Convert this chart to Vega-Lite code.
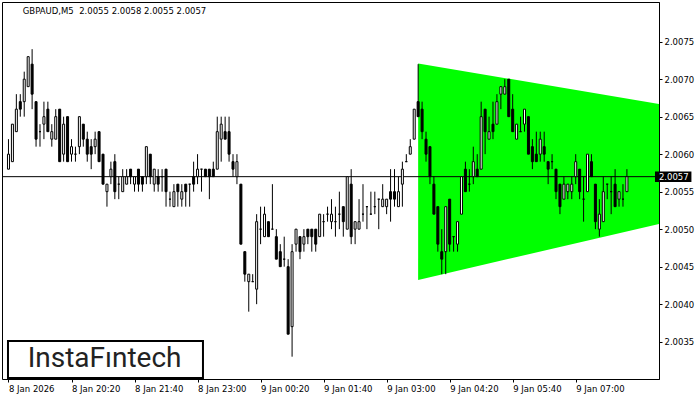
{
  "$schema": "https://vega.github.io/schema/vega-lite/v6.json",
  "width": 657,
  "height": 377,
  "autosize": {"type": "none"},
  "padding": {"left": 2, "top": 2, "right": 41, "bottom": 21},
  "background": "white",
  "config": {"view": {"stroke": "black", "strokeWidth": 1}, "font": "DejaVu Sans"},
  "datasets": {
    "one": [{}],
    "tri": [
      {"t": "2026-01-09T03:40", "top": 2.00721, "bot": 2.004323},
      {"t": "2026-01-09T09:00", "top": 2.006642, "bot": 2.005105}
    ],
    "candles": [
      {"t":"2026-01-08T19:00","o":2.0058,"h":2.0062,"l":2.0058,"c":2.0060},
      {"t":"2026-01-08T19:05","o":2.0059,"h":2.0064,"l":2.0059,"c":2.0064},
      {"t":"2026-01-08T19:10","o":2.0063,"h":2.0068,"l":2.0063,"c":2.0066},
      {"t":"2026-01-08T19:15","o":2.0067,"h":2.0068,"l":2.0065,"c":2.0066},
      {"t":"2026-01-08T19:20","o":2.0067,"h":2.0071,"l":2.0065,"c":2.0070},
      {"t":"2026-01-08T19:25","o":2.0069,"h":2.0073,"l":2.0069,"c":2.0073},
      {"t":"2026-01-08T19:30","o":2.0072,"h":2.0074,"l":2.0066,"c":2.0068},
      {"t":"2026-01-08T19:35","o":2.0067,"h":2.0067,"l":2.0061,"c":2.0062},
      {"t":"2026-01-08T19:40","o":2.0063,"h":2.0064,"l":2.0061,"c":2.0063},
      {"t":"2026-01-08T19:45","o":2.0064,"h":2.0067,"l":2.0062,"c":2.0065},
      {"t":"2026-01-08T19:50","o":2.0066,"h":2.0067,"l":2.0063,"c":2.0063},
      {"t":"2026-01-08T19:55","o":2.0062,"h":2.0064,"l":2.0061,"c":2.0063},
      {"t":"2026-01-08T20:00","o":2.0062,"h":2.0066,"l":2.0062,"c":2.0065},
      {"t":"2026-01-08T20:05","o":2.0066,"h":2.0066,"l":2.0059,"c":2.0059},
      {"t":"2026-01-08T20:10","o":2.0060,"h":2.0065,"l":2.0059,"c":2.0064},
      {"t":"2026-01-08T20:15","o":2.0065,"h":2.0065,"l":2.0059,"c":2.0059},
      {"t":"2026-01-08T20:20","o":2.0060,"h":2.0062,"l":2.0059,"c":2.0061},
      {"t":"2026-01-08T20:25","o":2.0060,"h":2.0061,"l":2.0059,"c":2.0060},
      {"t":"2026-01-08T20:30","o":2.0061,"h":2.0065,"l":2.0060,"c":2.0065},
      {"t":"2026-01-08T20:35","o":2.0064,"h":2.0064,"l":2.0061,"c":2.0062},
      {"t":"2026-01-08T20:40","o":2.0062,"h":2.0063,"l":2.0059,"c":2.0060},
      {"t":"2026-01-08T20:45","o":2.0061,"h":2.0062,"l":2.0058,"c":2.0060},
      {"t":"2026-01-08T20:50","o":2.0061,"h":2.0063,"l":2.0060,"c":2.0062},
      {"t":"2026-01-08T20:55","o":2.0063,"h":2.0063,"l":2.0059,"c":2.0059},
      {"t":"2026-01-08T21:00","o":2.0060,"h":2.0060,"l":2.0056,"c":2.0056},
      {"t":"2026-01-08T21:05","o":2.0055,"h":2.0056,"l":2.0053,"c":2.0056},
      {"t":"2026-01-08T21:10","o":2.0057,"h":2.0059,"l":2.0056,"c":2.0058},
      {"t":"2026-01-08T21:15","o":2.0059,"h":2.0060,"l":2.0054,"c":2.0055},
      {"t":"2026-01-08T21:20","o":2.0056,"h":2.0057,"l":2.0054,"c":2.0056},
      {"t":"2026-01-08T21:25","o":2.0055,"h":2.0058,"l":2.0055,"c":2.0057},
      {"t":"2026-01-08T21:30","o":2.0056,"h":2.0058,"l":2.0056,"c":2.0057},
      {"t":"2026-01-08T21:35","o":2.0058,"h":2.0058,"l":2.0056,"c":2.0057},
      {"t":"2026-01-08T21:40","o":2.0056,"h":2.0057,"l":2.0055,"c":2.0057},
      {"t":"2026-01-08T21:45","o":2.0058,"h":2.0058,"l":2.0055,"c":2.0056},
      {"t":"2026-01-08T21:50","o":2.0057,"h":2.0057,"l":2.0055,"c":2.0056},
      {"t":"2026-01-08T21:55","o":2.0057,"h":2.0061,"l":2.0056,"c":2.0061},
      {"t":"2026-01-08T22:00","o":2.0060,"h":2.0060,"l":2.0056,"c":2.0057},
      {"t":"2026-01-08T22:05","o":2.0056,"h":2.0058,"l":2.0055,"c":2.0058},
      {"t":"2026-01-08T22:10","o":2.0057,"h":2.0058,"l":2.0055,"c":2.0056},
      {"t":"2026-01-08T22:15","o":2.0057,"h":2.0058,"l":2.0055,"c":2.0057},
      {"t":"2026-01-08T22:20","o":2.0058,"h":2.0058,"l":2.0053,"c":2.0055},
      {"t":"2026-01-08T22:25","o":2.0054,"h":2.0055,"l":2.0053,"c":2.0054},
      {"t":"2026-01-08T22:30","o":2.0053,"h":2.0056,"l":2.0053,"c":2.0055},
      {"t":"2026-01-08T22:35","o":2.0056,"h":2.0056,"l":2.0053,"c":2.0055},
      {"t":"2026-01-08T22:40","o":2.0054,"h":2.0056,"l":2.0053,"c":2.0055},
      {"t":"2026-01-08T22:45","o":2.0056,"h":2.0056,"l":2.0053,"c":2.0055},
      {"t":"2026-01-08T22:50","o":2.0056,"h":2.0056,"l":2.0053,"c":2.0056},
      {"t":"2026-01-08T22:55","o":2.0057,"h":2.0059,"l":2.0055,"c":2.0056},
      {"t":"2026-01-08T23:00","o":2.0057,"h":2.0060,"l":2.0056,"c":2.0058},
      {"t":"2026-01-08T23:05","o":2.0058,"h":2.0058,"l":2.0055,"c":2.0058},
      {"t":"2026-01-08T23:10","o":2.0058,"h":2.0058,"l":2.0057,"c":2.0057},
      {"t":"2026-01-08T23:15","o":2.0058,"h":2.0058,"l":2.0054,"c":2.0057},
      {"t":"2026-01-08T23:20","o":2.0058,"h":2.0059,"l":2.0057,"c":2.0057},
      {"t":"2026-01-08T23:25","o":2.0058,"h":2.0065,"l":2.0058,"c":2.0063},
      {"t":"2026-01-08T23:30","o":2.0062,"h":2.0065,"l":2.0059,"c":2.0064},
      {"t":"2026-01-08T23:35","o":2.0063,"h":2.0065,"l":2.0062,"c":2.0062},
      {"t":"2026-01-08T23:40","o":2.0063,"h":2.0065,"l":2.0059,"c":2.0060},
      {"t":"2026-01-08T23:45","o":2.0059,"h":2.0060,"l":2.0057,"c":2.0058},
      {"t":"2026-01-08T23:50","o":2.0057,"h":2.0060,"l":2.0056,"c":2.0059},
      {"t":"2026-01-08T23:55","o":2.0056,"h":2.0056,"l":2.0048,"c":2.0048},
      {"t":"2026-01-09T00:00","o":2.0047,"h":2.0047,"l":2.0043,"c":2.0044},
      {"t":"2026-01-09T00:05","o":2.0043,"h":2.0044,"l":2.0039,"c":2.0044},
      {"t":"2026-01-09T00:10","o":2.0043,"h":2.0044,"l":2.0043,"c":2.0043},
      {"t":"2026-01-09T00:15","o":2.0042,"h":2.0052,"l":2.0040,"c":2.0051},
      {"t":"2026-01-09T00:20","o":2.0050,"h":2.0053,"l":2.0048,"c":2.0050},
      {"t":"2026-01-09T00:25","o":2.0049,"h":2.0053,"l":2.0049,"c":2.0052},
      {"t":"2026-01-09T00:30","o":2.0051,"h":2.0051,"l":2.0049,"c":2.0049},
      {"t":"2026-01-09T00:35","o":2.0050,"h":2.0056,"l":2.0050,"c":2.0050},
      {"t":"2026-01-09T00:40","o":2.0049,"h":2.0050,"l":2.0046,"c":2.0046},
      {"t":"2026-01-09T00:45","o":2.0047,"h":2.0048,"l":2.0045,"c":2.0045},
      {"t":"2026-01-09T00:50","o":2.0046,"h":2.0049,"l":2.0045,"c":2.0046},
      {"t":"2026-01-09T00:55","o":2.0045,"h":2.0046,"l":2.0036,"c":2.0036},
      {"t":"2026-01-09T01:00","o":2.0037,"h":2.0048,"l":2.0033,"c":2.0047},
      {"t":"2026-01-09T01:05","o":2.0048,"h":2.0050,"l":2.0047,"c":2.0050},
      {"t":"2026-01-09T01:10","o":2.0049,"h":2.0049,"l":2.0046,"c":2.0047},
      {"t":"2026-01-09T01:15","o":2.0048,"h":2.0050,"l":2.0047,"c":2.0049},
      {"t":"2026-01-09T01:20","o":2.0050,"h":2.0050,"l":2.0048,"c":2.0049},
      {"t":"2026-01-09T01:25","o":2.0050,"h":2.0050,"l":2.0047,"c":2.0049},
      {"t":"2026-01-09T01:30","o":2.0050,"h":2.0050,"l":2.0047,"c":2.0048},
      {"t":"2026-01-09T01:35","o":2.0049,"h":2.0052,"l":2.0049,"c":2.0052},
      {"t":"2026-01-09T01:40","o":2.0051,"h":2.0052,"l":2.0049,"c":2.0051},
      {"t":"2026-01-09T01:45","o":2.0052,"h":2.0053,"l":2.0051,"c":2.0052},
      {"t":"2026-01-09T01:50","o":2.0051,"h":2.0054,"l":2.0050,"c":2.0052},
      {"t":"2026-01-09T01:55","o":2.0051,"h":2.0053,"l":2.0049,"c":2.0051},
      {"t":"2026-01-09T02:00","o":2.0052,"h":2.0055,"l":2.0050,"c":2.0052},
      {"t":"2026-01-09T02:05","o":2.0053,"h":2.0053,"l":2.0049,"c":2.0051},
      {"t":"2026-01-09T02:10","o":2.0050,"h":2.0057,"l":2.0050,"c":2.0057},
      {"t":"2026-01-09T02:15","o":2.0056,"h":2.0058,"l":2.0048,"c":2.0049},
      {"t":"2026-01-09T02:20","o":2.0050,"h":2.0051,"l":2.0048,"c":2.0051},
      {"t":"2026-01-09T02:25","o":2.0050,"h":2.0054,"l":2.0050,"c":2.0051},
      {"t":"2026-01-09T02:30","o":2.0052,"h":2.0056,"l":2.0051,"c":2.0052},
      {"t":"2026-01-09T02:35","o":2.0053,"h":2.0053,"l":2.0050,"c":2.0053},
      {"t":"2026-01-09T02:40","o":2.0052,"h":2.0055,"l":2.0052,"c":2.0052},
      {"t":"2026-01-09T02:45","o":2.0053,"h":2.0055,"l":2.0052,"c":2.0053},
      {"t":"2026-01-09T02:50","o":2.0054,"h":2.0054,"l":2.0050,"c":2.0054},
      {"t":"2026-01-09T02:55","o":2.0053,"h":2.0056,"l":2.0053,"c":2.0054},
      {"t":"2026-01-09T03:00","o":2.0053,"h":2.0054,"l":2.0052,"c":2.0054},
      {"t":"2026-01-09T03:05","o":2.0055,"h":2.0058,"l":2.0051,"c":2.0054},
      {"t":"2026-01-09T03:10","o":2.0055,"h":2.0058,"l":2.0053,"c":2.0054},
      {"t":"2026-01-09T03:15","o":2.0053,"h":2.0057,"l":2.0053,"c":2.0055},
      {"t":"2026-01-09T03:20","o":2.0056,"h":2.0059,"l":2.0053,"c":2.0058},
      {"t":"2026-01-09T03:25","o":2.0059,"h":2.0060,"l":2.0059,"c":2.0059},
      {"t":"2026-01-09T03:30","o":2.0060,"h":2.0062,"l":2.0060,"c":2.0061},
      {"t":"2026-01-09T03:35","o":2.0062,"h":2.0066,"l":2.0062,"c":2.0066},
      {"t":"2026-01-09T03:40","o":2.0067,"h":2.0072,"l":2.0065,"c":2.0065},
      {"t":"2026-01-09T03:45","o":2.0066,"h":2.0067,"l":2.0062,"c":2.0063},
      {"t":"2026-01-09T03:50","o":2.0062,"h":2.0063,"l":2.0059,"c":2.0060},
      {"t":"2026-01-09T03:55","o":2.0061,"h":2.0061,"l":2.0056,"c":2.0057},
      {"t":"2026-01-09T04:00","o":2.0056,"h":2.0057,"l":2.0052,"c":2.0052},
      {"t":"2026-01-09T04:05","o":2.0053,"h":2.0053,"l":2.0047,"c":2.0048},
      {"t":"2026-01-09T04:10","o":2.0047,"h":2.0050,"l":2.0044,"c":2.0046},
      {"t":"2026-01-09T04:15","o":2.0047,"h":2.0053,"l":2.0044,"c":2.0053},
      {"t":"2026-01-09T04:20","o":2.0054,"h":2.0054,"l":2.0047,"c":2.0048},
      {"t":"2026-01-09T04:25","o":2.0049,"h":2.0049,"l":2.0047,"c":2.0049},
      {"t":"2026-01-09T04:30","o":2.0048,"h":2.0051,"l":2.0047,"c":2.0051},
      {"t":"2026-01-09T04:35","o":2.0052,"h":2.0057,"l":2.0052,"c":2.0057},
      {"t":"2026-01-09T04:40","o":2.0058,"h":2.0059,"l":2.0055,"c":2.0055},
      {"t":"2026-01-09T04:45","o":2.0056,"h":2.0058,"l":2.0055,"c":2.0056},
      {"t":"2026-01-09T04:50","o":2.0057,"h":2.0061,"l":2.0056,"c":2.0059},
      {"t":"2026-01-09T04:55","o":2.0058,"h":2.0060,"l":2.0057,"c":2.0057},
      {"t":"2026-01-09T05:00","o":2.0058,"h":2.0067,"l":2.0058,"c":2.0065},
      {"t":"2026-01-09T05:05","o":2.0066,"h":2.0066,"l":2.0060,"c":2.0063},
      {"t":"2026-01-09T05:10","o":2.0062,"h":2.0065,"l":2.0062,"c":2.0063},
      {"t":"2026-01-09T05:15","o":2.0064,"h":2.0067,"l":2.0062,"c":2.0063},
      {"t":"2026-01-09T05:20","o":2.0064,"h":2.0068,"l":2.0064,"c":2.0067},
      {"t":"2026-01-09T05:25","o":2.0068,"h":2.0069,"l":2.0066,"c":2.0069},
      {"t":"2026-01-09T05:30","o":2.0068,"h":2.0070,"l":2.0068,"c":2.0069},
      {"t":"2026-01-09T05:35","o":2.0070,"h":2.0070,"l":2.0065,"c":2.0065},
      {"t":"2026-01-09T05:40","o":2.0066,"h":2.0068,"l":2.0063,"c":2.0063},
      {"t":"2026-01-09T05:45","o":2.0062,"h":2.0064,"l":2.0062,"c":2.0064},
      {"t":"2026-01-09T05:50","o":2.0063,"h":2.0065,"l":2.0063,"c":2.0063},
      {"t":"2026-01-09T05:55","o":2.0064,"h":2.0066,"l":2.0063,"c":2.0066},
      {"t":"2026-01-09T06:00","o":2.0065,"h":2.0065,"l":2.0060,"c":2.0060},
      {"t":"2026-01-09T06:05","o":2.0061,"h":2.0062,"l":2.0058,"c":2.0059},
      {"t":"2026-01-09T06:10","o":2.0060,"h":2.0063,"l":2.0059,"c":2.0059},
      {"t":"2026-01-09T06:15","o":2.0060,"h":2.0063,"l":2.0059,"c":2.0062},
      {"t":"2026-01-09T06:20","o":2.0061,"h":2.0063,"l":2.0059,"c":2.0060},
      {"t":"2026-01-09T06:25","o":2.0059,"h":2.0059,"l":2.0056,"c":2.0058},
      {"t":"2026-01-09T06:30","o":2.0059,"h":2.0060,"l":2.0058,"c":2.0059},
      {"t":"2026-01-09T06:35","o":2.0058,"h":2.0058,"l":2.0054,"c":2.0055},
      {"t":"2026-01-09T06:40","o":2.0056,"h":2.0056,"l":2.0052,"c":2.0053},
      {"t":"2026-01-09T06:45","o":2.0054,"h":2.0057,"l":2.0054,"c":2.0056},
      {"t":"2026-01-09T06:50","o":2.0055,"h":2.0056,"l":2.0054,"c":2.0056},
      {"t":"2026-01-09T06:55","o":2.0055,"h":2.0057,"l":2.0054,"c":2.0056},
      {"t":"2026-01-09T07:00","o":2.0057,"h":2.0060,"l":2.0056,"c":2.0059},
      {"t":"2026-01-09T07:05","o":2.0058,"h":2.0058,"l":2.0054,"c":2.0055},
      {"t":"2026-01-09T07:10","o":2.0054,"h":2.0057,"l":2.0051,"c":2.0054},
      {"t":"2026-01-09T07:15","o":2.0055,"h":2.0060,"l":2.0055,"c":2.0060},
      {"t":"2026-01-09T07:20","o":2.0059,"h":2.0060,"l":2.0057,"c":2.0057},
      {"t":"2026-01-09T07:25","o":2.0056,"h":2.0056,"l":2.0050,"c":2.0051},
      {"t":"2026-01-09T07:30","o":2.0050,"h":2.0054,"l":2.0049,"c":2.0052},
      {"t":"2026-01-09T07:35","o":2.0051,"h":2.0057,"l":2.0051,"c":2.0055},
      {"t":"2026-01-09T07:40","o":2.0056,"h":2.0056,"l":2.0054,"c":2.0056},
      {"t":"2026-01-09T07:45","o":2.0055,"h":2.0057,"l":2.0052,"c":2.0055},
      {"t":"2026-01-09T07:50","o":2.0056,"h":2.0058,"l":2.0053,"c":2.0053},
      {"t":"2026-01-09T07:55","o":2.0054,"h":2.0055,"l":2.0053,"c":2.0055},
      {"t":"2026-01-09T08:00","o":2.0054,"h":2.0056,"l":2.0053,"c":2.0054},
      {"t":"2026-01-09T08:05","o":2.0055,"h":2.0058,"l":2.0055,"c":2.0057}
    ]
  },
  "layer": [
    {
      "data": {"name": "tri"},
      "mark": {"type": "area", "color": "#00ff00", "clip": true, "opacity": 1},
      "encoding": {
        "x": {"field": "t", "type": "temporal", "scale": {"domain": [{"year": 2026, "month": 1, "date": 8, "hours": 18, "minutes": 58, "seconds": 7, "milliseconds": 500}, {"year": 2026, "month": 1, "date": 9, "hours": 8, "minutes": 39, "seconds": 22, "milliseconds": 500}], "nice": false}},
        "y": {"field": "top", "type": "quantitative", "scale": {"domain": [2.0030023, 2.0080289], "nice": false, "zero": false}},
        "y2": {"field": "bot"}
      }
    },
    {
      "data": {"name": "one"},
      "mark": {"type": "rule", "color": "black", "strokeWidth": 1},
      "encoding": {
        "y": {"datum": 2.0057, "type": "quantitative", "scale": {"domain": [2.0030023, 2.0080289], "nice": false, "zero": false}}
      }
    },
    {
      "data": {"name": "candles"},
      "mark": {"type": "rule", "color": "black", "strokeWidth": 1},
      "encoding": {
        "x": {"field": "t", "type": "temporal", "scale": {"domain": [{"year": 2026, "month": 1, "date": 8, "hours": 18, "minutes": 58, "seconds": 7, "milliseconds": 500}, {"year": 2026, "month": 1, "date": 9, "hours": 8, "minutes": 39, "seconds": 22, "milliseconds": 500}], "nice": false},
          "axis": {"title": null, "grid": false, "domain": false, "tickColor": "black", "tickSize": 3, "labelAlign": "left", "labelBaseline": "top", "labelPadding": 2, "labelFont": "DejaVu Sans", "labelFontSize": 8.5, "labelColor": "black", "labelOverlap": false, "labelFlush": false, "labelBound": false,
            "values": [
              {"year": 2026, "month": 1, "date": 8, "hours": 19, "minutes": 0},
              {"year": 2026, "month": 1, "date": 8, "hours": 20, "minutes": 20},
              {"year": 2026, "month": 1, "date": 8, "hours": 21, "minutes": 40},
              {"year": 2026, "month": 1, "date": 8, "hours": 23, "minutes": 0},
              {"year": 2026, "month": 1, "date": 9, "hours": 0, "minutes": 20},
              {"year": 2026, "month": 1, "date": 9, "hours": 1, "minutes": 40},
              {"year": 2026, "month": 1, "date": 9, "hours": 3, "minutes": 0},
              {"year": 2026, "month": 1, "date": 9, "hours": 4, "minutes": 20},
              {"year": 2026, "month": 1, "date": 9, "hours": 5, "minutes": 40},
              {"year": 2026, "month": 1, "date": 9, "hours": 7, "minutes": 0}
            ],
            "labelExpr": "timeFormat(datum.value, '%d %H:%M') == '08 19:00' ? '8 Jan 2026' : timeFormat(datum.value, '%-d %b %H:%M')"
          }
        },
        "y": {"field": "l", "type": "quantitative", "scale": {"domain": [2.0030023, 2.0080289], "nice": false, "zero": false},
          "axis": {"orient": "right", "title": null, "grid": false, "values": [2.0035, 2.004, 2.0045, 2.005, 2.0055, 2.006, 2.0065, 2.007, 2.0075], "format": ".4f", "labelFont": "DejaVu Sans", "labelFontSize": 8.5, "labelColor": "black", "tickColor": "black", "tickSize": 3, "domainColor": "black", "labelPadding": 2}
        },
        "y2": {"field": "h"}
      }
    },
    {
      "data": {"name": "candles"},
      "mark": {"type": "bar", "width": 2, "stroke": "black", "strokeWidth": 1},
      "encoding": {
        "x": {"field": "t", "type": "temporal", "scale": {"domain": [{"year": 2026, "month": 1, "date": 8, "hours": 18, "minutes": 58, "seconds": 7, "milliseconds": 500}, {"year": 2026, "month": 1, "date": 9, "hours": 8, "minutes": 39, "seconds": 22, "milliseconds": 500}], "nice": false}},
        "y": {"field": "o", "type": "quantitative", "scale": {"domain": [2.0030023, 2.0080289], "nice": false, "zero": false}},
        "y2": {"field": "c"},
        "fill": {"condition": {"test": "datum.c >= datum.o", "value": "white"}, "value": "black"}
      }
    },
    {
      "data": {"name": "one"},
      "mark": {"type": "rect", "fill": "white", "stroke": "black", "strokeWidth": 2},
      "encoding": {
        "x": {"datum": {"year": 2026, "month": 1, "date": 8, "hours": 18, "minutes": 59, "seconds": 22, "milliseconds": 500}, "type": "temporal", "scale": {"domain": [{"year": 2026, "month": 1, "date": 8, "hours": 18, "minutes": 58, "seconds": 7, "milliseconds": 500}, {"year": 2026, "month": 1, "date": 9, "hours": 8, "minutes": 39, "seconds": 22, "milliseconds": 500}], "nice": false}},
        "x2": {"datum": {"year": 2026, "month": 1, "date": 8, "hours": 23, "minutes": 6, "seconds": 52, "milliseconds": 500}},
        "y": {"datum": 2.003509, "type": "quantitative", "scale": {"domain": [2.0030023, 2.0080289], "nice": false, "zero": false}},
        "y2": {"datum": 2.003016}
      }
    },
    {
      "data": {"name": "one"},
      "mark": {"type": "text", "text": "InstaFıntech", "font": "Roboto", "fontSize": 28, "fontWeight": "normal", "color": "#222222", "align": "center", "baseline": "middle"},
      "encoding": {
        "x": {"datum": {"year": 2026, "month": 1, "date": 8, "hours": 21, "minutes": 2}, "type": "temporal", "scale": {"domain": [{"year": 2026, "month": 1, "date": 8, "hours": 18, "minutes": 58, "seconds": 7, "milliseconds": 500}, {"year": 2026, "month": 1, "date": 9, "hours": 8, "minutes": 39, "seconds": 22, "milliseconds": 500}], "nice": false}},
        "y": {"datum": 2.003265, "type": "quantitative", "scale": {"domain": [2.0030023, 2.0080289], "nice": false, "zero": false}}
      }
    },
    {
      "data": {"name": "one"},
      "mark": {"type": "text", "text": "GBPAUD,M5\u00a0 2.0055 2.0058 2.0055 2.0057", "font": "DejaVu Sans", "fontSize": 8.5, "color": "black", "align": "left", "baseline": "middle"},
      "encoding": {
        "x": {"datum": {"year": 2026, "month": 1, "date": 8, "hours": 19, "minutes": 18, "seconds": 7, "milliseconds": 500}, "type": "temporal", "scale": {"domain": [{"year": 2026, "month": 1, "date": 8, "hours": 18, "minutes": 58, "seconds": 7, "milliseconds": 500}, {"year": 2026, "month": 1, "date": 9, "hours": 8, "minutes": 39, "seconds": 22, "milliseconds": 500}], "nice": false}},
        "y": {"datum": 2.007913, "type": "quantitative", "scale": {"domain": [2.0030023, 2.0080289], "nice": false, "zero": false}}
      }
    },
    {
      "data": {"name": "one"},
      "mark": {"type": "rect", "fill": "black", "clip": false},
      "encoding": {
        "x": {"datum": {"year": 2026, "month": 1, "date": 9, "hours": 8, "minutes": 40, "seconds": 37, "milliseconds": 500}, "type": "temporal", "scale": {"domain": [{"year": 2026, "month": 1, "date": 8, "hours": 18, "minutes": 58, "seconds": 7, "milliseconds": 500}, {"year": 2026, "month": 1, "date": 9, "hours": 8, "minutes": 39, "seconds": 22, "milliseconds": 500}], "nice": false}},
        "x2": {"datum": {"year": 2026, "month": 1, "date": 9, "hours": 9, "minutes": 26, "seconds": 52, "milliseconds": 500}},
        "y": {"datum": 2.00577, "type": "quantitative", "scale": {"domain": [2.0030023, 2.0080289], "nice": false, "zero": false}},
        "y2": {"datum": 2.00563}
      }
    },
    {
      "data": {"name": "one"},
      "mark": {"type": "text", "text": "2.0057", "font": "DejaVu Sans", "fontSize": 8.5, "color": "white", "align": "left", "baseline": "middle"},
      "encoding": {
        "x": {"datum": {"year": 2026, "month": 1, "date": 9, "hours": 8, "minutes": 45, "seconds": 37, "milliseconds": 500}, "type": "temporal", "scale": {"domain": [{"year": 2026, "month": 1, "date": 8, "hours": 18, "minutes": 58, "seconds": 7, "milliseconds": 500}, {"year": 2026, "month": 1, "date": 9, "hours": 8, "minutes": 39, "seconds": 22, "milliseconds": 500}], "nice": false}},
        "y": {"datum": 2.0057, "type": "quantitative", "scale": {"domain": [2.0030023, 2.0080289], "nice": false, "zero": false}}
      }
    }
  ]
}
